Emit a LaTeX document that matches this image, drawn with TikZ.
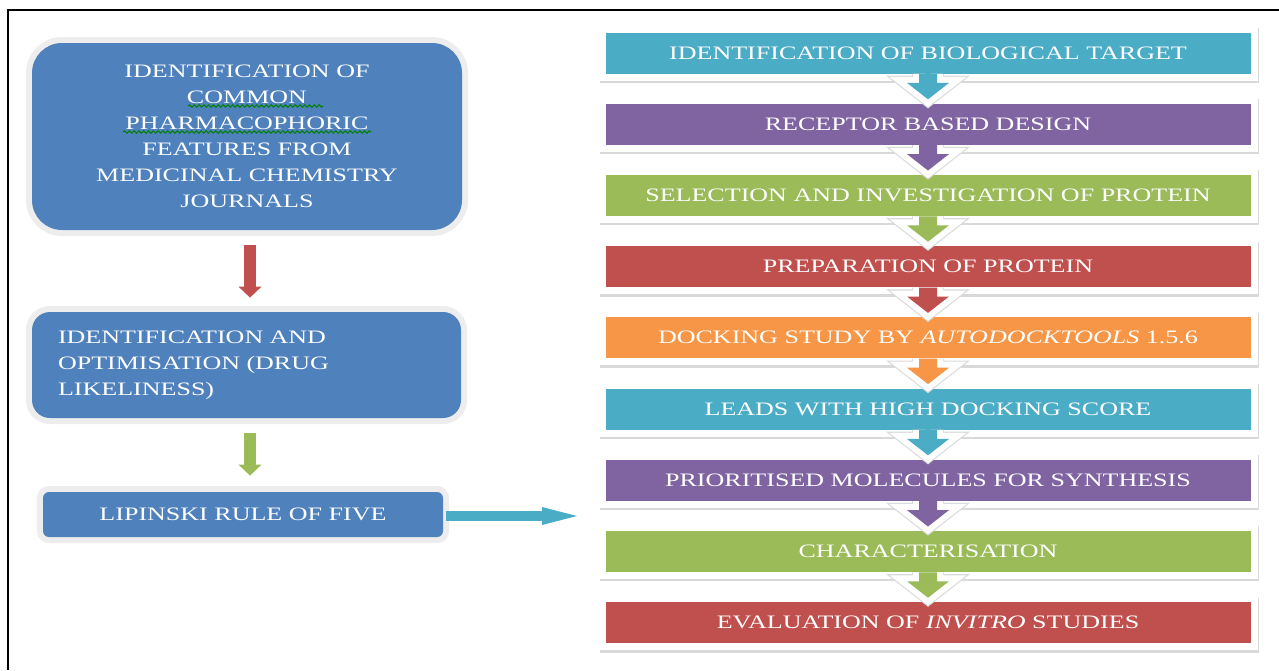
\documentclass[tikz,border=0pt]{standalone}
\usepackage{fontspec}
\setmainfont{Liberation Serif}[FakeStretch=1.37]
\usetikzlibrary{positioning,calc,shadows,arrows.meta,decorations.pathmorphing}
\definecolor{offblue}{HTML}{4F81BD}
\definecolor{aqua}{HTML}{4BACC6}
\definecolor{plum}{HTML}{8064A2}
\definecolor{olive}{HTML}{9BBB59}
\definecolor{brick}{HTML}{C0504D}
\definecolor{amber}{HTML}{F79646}
\begin{document}
\begin{tikzpicture}[x=0.5pt,y=-0.5pt,
  every node/.style={font=\fontsize{9.5pt}{13pt}\selectfont, text=white},
  roundbox/.style={fill=offblue, rounded corners=#1, preaction={draw=black!7, line width=6pt}},
  stepbox/.style={fill=white, minimum width=329.5pt, minimum height=27.5pt, inner sep=0pt,
    drop shadow={opacity=0.3, shadow xshift=0.7pt, shadow yshift=-1.2pt},
    path picture={\fill[#1] ([shift={(3.5pt,3.5pt)}]path picture bounding box.south west)
      rectangle ([shift={(-3.5pt,-3.5pt)}]path picture bounding box.north east);}},
  chev/.style={fill=#1, preaction={draw=black!14, line width=7.2pt, line join=miter},
    preaction={draw=white, line width=6pt, line join=miter}},
  fatarrow/.style={line width=6pt, draw=#1, -{Triangle[length=5.5pt,width=11.5pt,line width=0pt]}},
  spell/.style={draw=green!50!black, line width=0.5pt, decorate,
    decoration={snake, amplitude=0.6pt, segment length=2.4pt}},
  node distance=7.7pt]
\useasboundingbox (0,0) rectangle (1279,670);
\draw[line width=1.3pt] (1279,10) -- (8,10) -- (8,670);
% left column
\node[roundbox=15pt, minimum width=215pt, minimum height=93.5pt, align=center] (pharm) at (247,136.5)
  {IDENTIFICATION OF\\ COMMON\\ PHARMACOPHORIC\\ FEATURES FROM\\ MEDICINAL CHEMISTRY\\ JOURNALS};
\node[roundbox=9pt, text width=188.5pt, inner xsep=13pt, minimum height=53pt, align=left] (drugopt) at (246.5,365)
  {IDENTIFICATION AND\\ OPTIMISATION (DRUG\\ LIKELINESS)};
\node[roundbox=3pt, minimum width=200pt, minimum height=22.5pt] (lipinski) at (243,514.5) {LIPINSKI RULE OF FIVE};
\draw[spell] ($(pharm.center)+(-59,-30.5)$) -- ++(135,0);
\draw[spell] ($(pharm.center)+(-124,-4.5)$) -- ++(248,0);
\draw[fatarrow=brick] ($(pharm.south)+(3,15)$) -- ($(drugopt.north)+(3.5,-14)$);
\draw[fatarrow=olive] ($(drugopt.south)+(3.5,15)$) -- ($(lipinski.north)+(7,-16)$);
\coordinate (lipend) at (577,516);
\draw[line width=5pt, draw=aqua, -{Triangle[length=17.5pt,width=9pt,line width=0pt]}] ($(lipinski.east)+(3,1.5)$) -- (lipend);
% right column
\node[stepbox=aqua] (target) at (928,53) {IDENTIFICATION OF BIOLOGICAL TARGET};
\node[stepbox=plum, below=of target] (receptor) {RECEPTOR BASED DESIGN};
\node[stepbox=olive, below=of receptor] (select) {SELECTION AND INVESTIGATION OF PROTEIN};
\node[stepbox=brick, below=of select] (prep) {PREPARATION OF PROTEIN};
\node[stepbox=amber, below=of prep] (docking) {DOCKING STUDY BY \textit{AUTODOCKTOOLS} 1.5.6};
\node[stepbox=aqua, below=of docking] (leads) {LEADS WITH HIGH DOCKING SCORE};
\node[stepbox=plum, below=of leads] (prior) {PRIORITISED MOLECULES FOR SYNTHESIS};
\node[stepbox=olive, below=of prior] (charac) {CHARACTERISATION};
\node[stepbox=brick, below=of charac] (invitro) {EVALUATION OF \textit{INVITRO} STUDIES};
% chevrons between steps
\path[chev=aqua] ($(target.south)+(-9,-7)$) -- ++(0,9) -- ++(-12,0) -- ($(receptor.north)+(0,3)$) -- ($(target.south)+(21,2)$) -- ++(-12,0) -- ++(0,-9);
\path[chev=plum] ($(receptor.south)+(-9,-7)$) -- ++(0,9) -- ++(-12,0) -- ($(select.north)+(0,3)$) -- ($(receptor.south)+(21,2)$) -- ++(-12,0) -- ++(0,-9);
\path[chev=olive] ($(select.south)+(-9,-7)$) -- ++(0,9) -- ++(-12,0) -- ($(prep.north)+(0,3)$) -- ($(select.south)+(21,2)$) -- ++(-12,0) -- ++(0,-9);
\path[chev=brick] ($(prep.south)+(-9,-7)$) -- ++(0,9) -- ++(-12,0) -- ($(docking.north)+(0,3)$) -- ($(prep.south)+(21,2)$) -- ++(-12,0) -- ++(0,-9);
\path[chev=amber] ($(docking.south)+(-9,-7)$) -- ++(0,9) -- ++(-12,0) -- ($(leads.north)+(0,3)$) -- ($(docking.south)+(21,2)$) -- ++(-12,0) -- ++(0,-9);
\path[chev=aqua] ($(leads.south)+(-9,-7)$) -- ++(0,9) -- ++(-12,0) -- ($(prior.north)+(0,3)$) -- ($(leads.south)+(21,2)$) -- ++(-12,0) -- ++(0,-9);
\path[chev=plum] ($(prior.south)+(-9,-7)$) -- ++(0,9) -- ++(-12,0) -- ($(charac.north)+(0,3)$) -- ($(prior.south)+(21,2)$) -- ++(-12,0) -- ++(0,-9);
\path[chev=olive] ($(charac.south)+(-9,-7)$) -- ++(0,9) -- ++(-12,0) -- ($(invitro.north)+(0,3)$) -- ($(charac.south)+(21,2)$) -- ++(-12,0) -- ++(0,-9);
\end{tikzpicture}
\end{document}
